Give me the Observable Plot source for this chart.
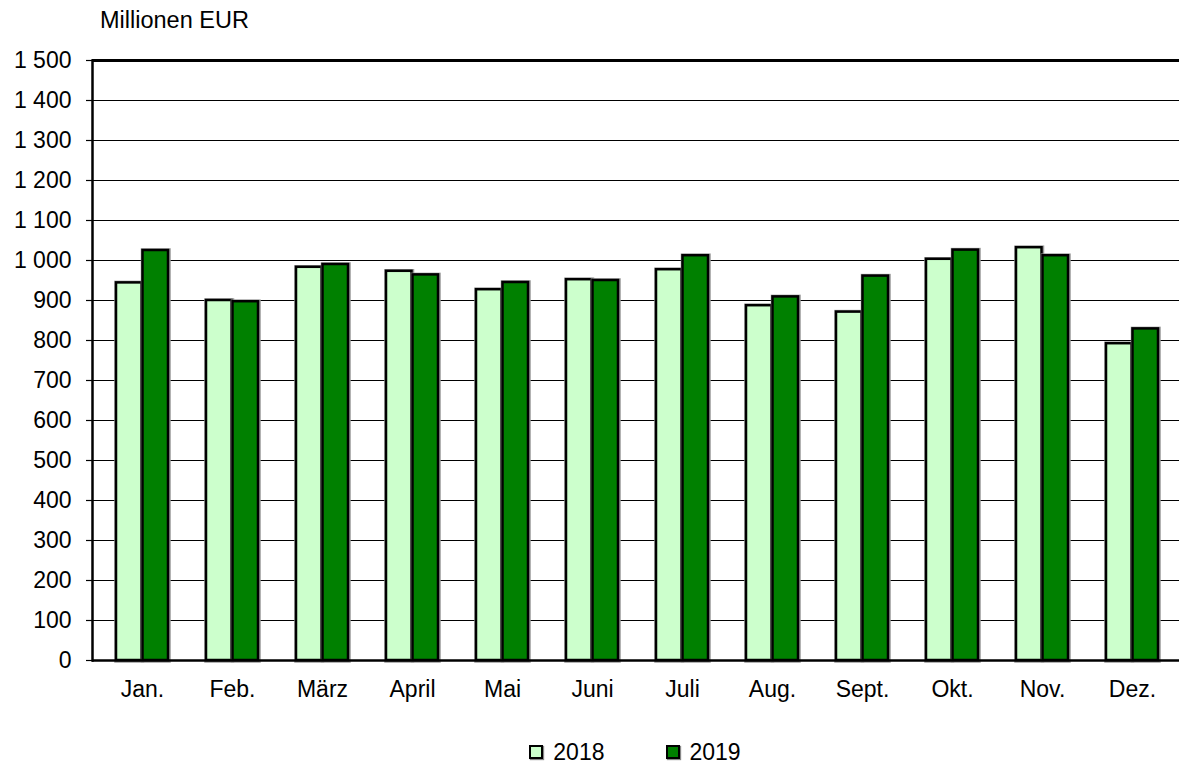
<!DOCTYPE html>
<html>
<head>
<meta charset="utf-8">
<script src="https://cdn.jsdelivr.net/npm/d3@7"></script>
<script src="https://cdn.jsdelivr.net/npm/@observablehq/plot@0.6"></script>
<style>
  html, body { margin: 0; padding: 0; background: #fff; }
  body { position: relative; width: 1179px; height: 765px; overflow: hidden;
         font-family: "Liberation Sans", Arial, sans-serif; color: #000; }
  #title { position: absolute; left: 100px; top: 9px; font-size: 23.5px; line-height: 1; }
  #chart { position: absolute; left: 0; top: 40px; width: 1179px; height: 680px; overflow: hidden; }
  #chart svg { max-width: none !important; }
  #legend { position: absolute; left: 91px; width: 1088px; top: 740px; height: 24px;
            display: flex; justify-content: center; align-items: center; font-size: 23px; }
  .item { display: flex; align-items: center; }
  .item + .item { margin-left: 61px; }
  .sw { width: 10px; height: 10px; border: 2px solid #000; margin-right: 10px; box-shadow: 1px 1px 1px #888; }
</style>
</head>
<body>
<div id="title">Millionen EUR</div>
<div id="chart"></div>
<div id="legend"></div>
<script>
const months = ["Jan.", "Feb.", "März", "April", "Mai", "Juni", "Juli", "Aug.", "Sept.", "Okt.", "Nov.", "Dez."];
const years = ["2018", "2019"];
const values2018 = [944, 900, 983, 973, 927, 952, 977, 887, 871, 1003, 1032, 792];
const values2019 = [1025, 897, 990, 964, 945, 950, 1012, 909, 961, 1026, 1012, 829];
const yTicks = [0, 100, 200, 300, 400, 500, 600, 700, 800, 900, 1000, 1100, 1200, 1300, 1400, 1500];
const colors = ["#CCFFCC", "#008000"];

const data2018 = months.map((m, i) => ({month: m, value: values2018[i]}));
const data2019 = months.map((m, i) => ({month: m, value: values2019[i]}));

// plot area runs slightly past the right edge of the window, as in the reference (clipped by #chart)
const width = 1183, height = 680;
const marginLeft = 92, marginRight = 0, marginTop = 20, marginBottom = 60;
const padInner = 0.417;
const step = (width - marginLeft - marginRight) / months.length;
const half = step * (1 - padInner) / 2;

const fmt = d => d >= 1000 ? Math.floor(d / 1000) + " " + String(d % 1000).padStart(3, "0") : String(d);

function bars(data, fill, side) {
  const inset = side === 0 ? {insetRight: half} : {insetLeft: half};
  return [
    Plot.barY(data, {x: "month", y: "value", fill, stroke: "#999", strokeWidth: 4.5, ...inset, dx: 0.5, dy: 0.5}),
    Plot.barY(data, {x: "month", y: "value", fill, stroke: "#000", strokeWidth: 2.5, ...inset})
  ];
}

const chart = Plot.plot({
  width, height, marginLeft, marginRight, marginTop, marginBottom,
  style: {fontFamily: "'Liberation Sans', Arial, sans-serif", fontSize: "23px", color: "#000", background: "#fff"},
  x: {domain: months, paddingInner: padInner, paddingOuter: padInner / 2, label: null},
  y: {domain: [0, 1500], label: null},
  marks: [
    Plot.ruleY(yTicks.slice(1, -1), {stroke: "#000", strokeWidth: 1.2}),
    ...bars(data2018, colors[0], 0),
    ...bars(data2019, colors[1], 1),
    Plot.ruleY([1500], {stroke: "#000", strokeWidth: 3}),
    Plot.ruleY([0], {stroke: "#000", strokeWidth: 2.5}),
    Plot.frame({anchor: "left", stroke: "#000", strokeWidth: 2.5}),
    Plot.axisY({ticks: yTicks, tickFormat: fmt, tickSize: 6, tickPadding: 15, label: null, fontSize: 23, stroke: "#000", strokeWidth: 1.2}),
    Plot.axisX({tickSize: 0, tickPadding: 20, label: null, fontSize: 23})
  ]
});
chart.style.maxWidth = "none";
document.getElementById("chart").appendChild(chart);

const legend = document.getElementById("legend");
years.forEach((y, i) => {
  const item = document.createElement("div");
  item.className = "item";
  const sw = document.createElement("span");
  sw.className = "sw";
  sw.style.background = colors[i];
  const t = document.createElement("span");
  t.textContent = y;
  item.appendChild(sw);
  item.appendChild(t);
  legend.appendChild(item);
});
</script>
</body>
</html>
